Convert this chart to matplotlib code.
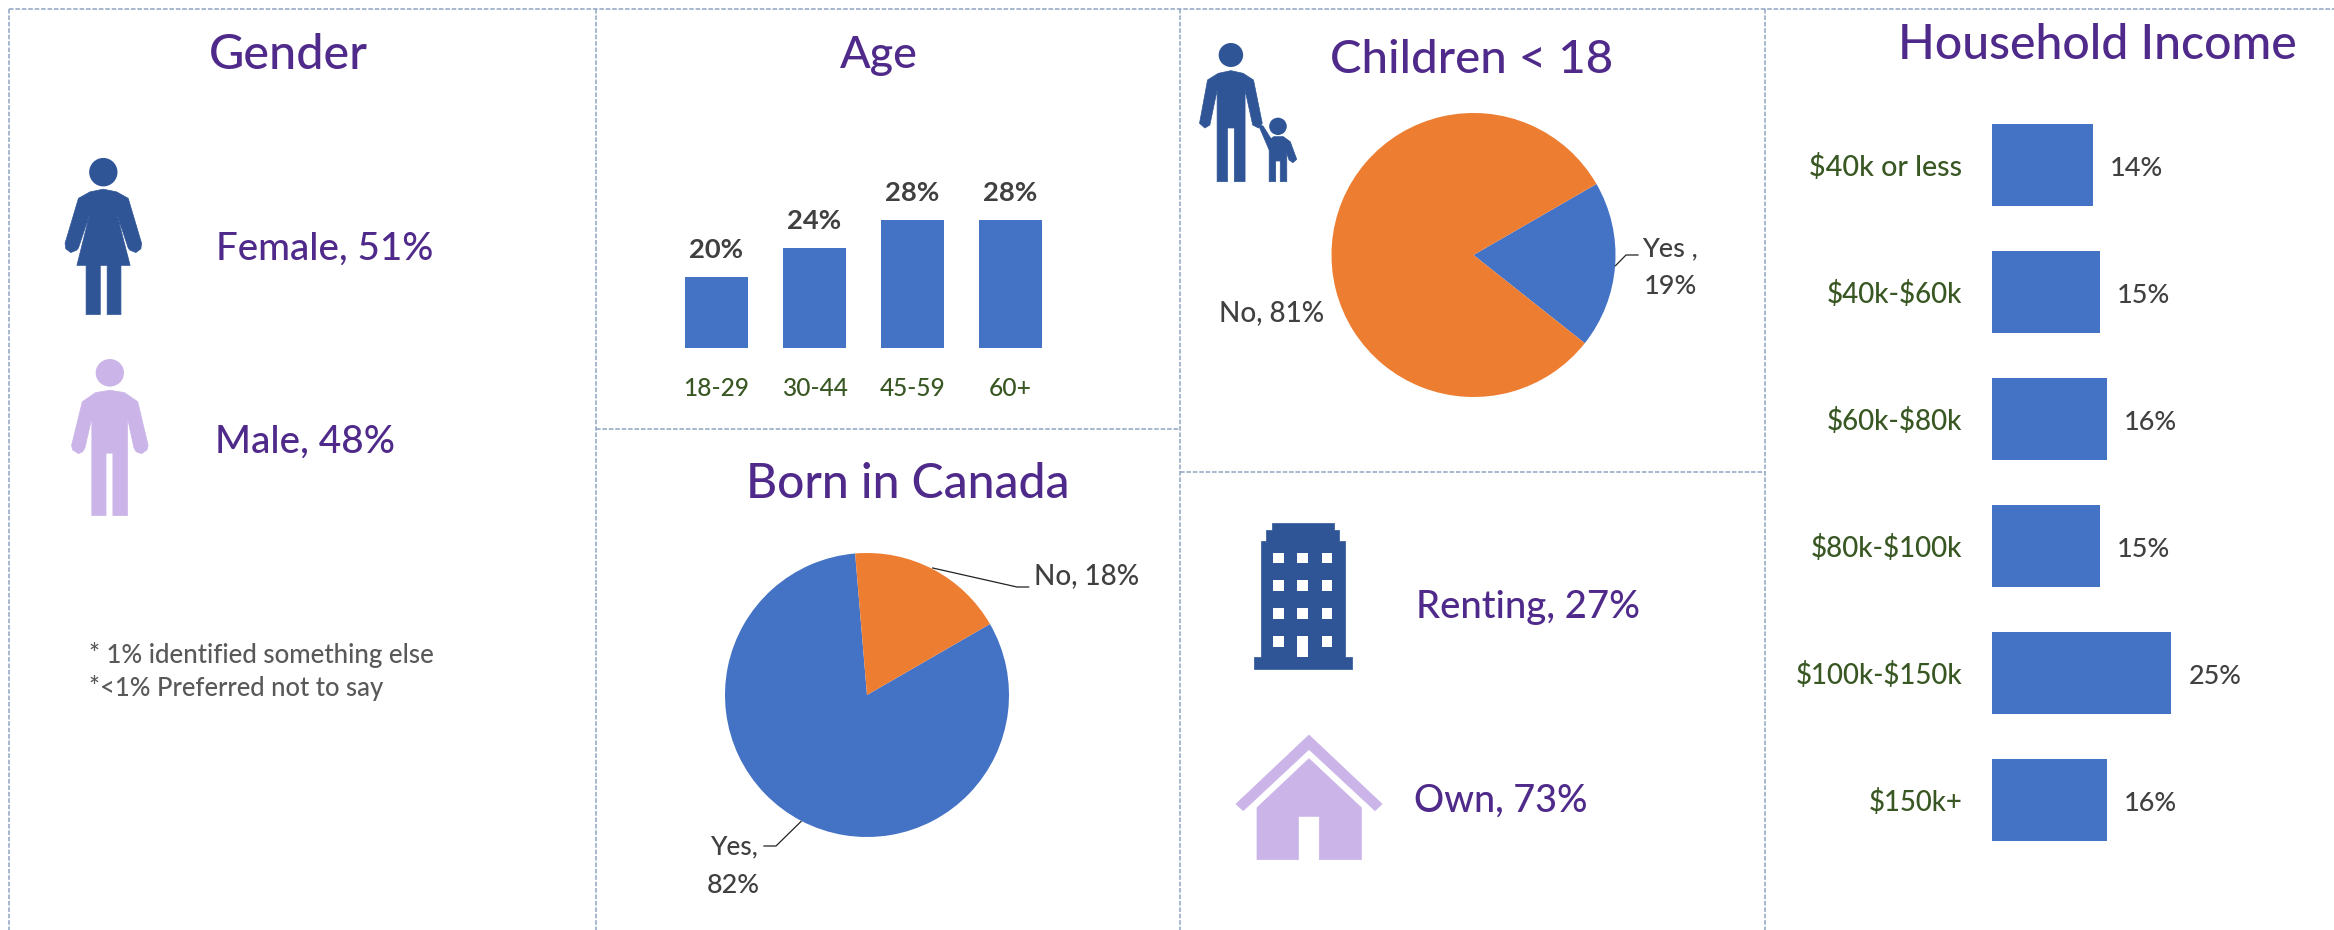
import matplotlib
matplotlib.use("Agg")
import matplotlib.pyplot as plt
from matplotlib.patches import Ellipse, Polygon, Rectangle

plt.rcParams['font.family'] = ['Lato', 'DejaVu Sans']
plt.rcParams['font.weight'] = 'medium'
plt.rcParams['text.parse_math'] = False

W, H = 2334, 930
PX = 0.72  # one pixel in points at dpi 100

PURPLE = "#4F2A8A"
DARK_BLUE = "#2F5597"
LILAC = "#CBB5E8"
BLUE = "#4472C4"
ORANGE = "#ED7D31"
GREEN = "#385723"
GRAY = "#404040"
LINE = "#8EA4C2"

# data
age_groups = ["18-29", "30-44", "45-59", "60+"]
age_values = [20, 24, 28, 28]
income_groups = ["$40k or less", "$40k-$60k", "$60k-$80k", "$80k-$100k", "$100k-$150k", "$150k+"]
income_values = [14, 15, 16, 15, 25, 16]
born_values = [82, 18]
children_values = [19, 81]

fig = plt.figure(figsize=(W / 100, H / 100), dpi=100, facecolor="white")
renderer = fig.canvas.get_renderer()


def px_axes(x0, y0, x1, y1):
    # axes from pixel box, y measured from the top
    return fig.add_axes([x0 / W, 1 - y1 / H, (x1 - x0) / W, (y1 - y0) / H])


def fit(t, width):
    # scale the font until the text is as wide as in the reference
    for _ in range(2):
        w = t.get_window_extent(renderer).width
        t.set_fontsize(t.get_fontsize() * width / w)


# age bars
ax = px_axes(667.5, 205.6, 1059.5, 347.6)
ax.bar(range(len(age_values)), age_values, width=0.64, color=BLUE)
ax.set_xlim(-0.5, 3.5)
ax.set_ylim(10, 30)
ax.set_xticks(range(len(age_groups)), age_groups)
ax.set_yticks([])
ax.tick_params(axis="x", length=0, pad=48 * PX, labelcolor=GREEN)
for s in ax.spines.values():
    s.set_visible(False)
ax.patch.set_visible(False)
for lab, wd in zip(ax.get_xticklabels(), [66, 66, 66, 43]):
    lab.set_va("baseline")
    fit(lab, wd)
for i, v in enumerate(age_values):
    t = ax.annotate(f"{v}%", (i, v), xytext=(0, 19 * PX), textcoords="offset points",
                    ha="center", va="baseline", fontweight="bold", color=GRAY)
    fit(t, 54)

# income bars
ax = px_axes(1992.4, 101, 2207.2, 864)
ax.barh(range(len(income_values)), income_values, height=0.644, color=BLUE)
ax.set_xlim(0, 30)
ax.set_ylim(5.5, -0.5)
ax.set_xticks([])
ax.set_yticks(range(len(income_groups)), income_groups)
ax.tick_params(axis="y", length=0, pad=30 * PX, labelcolor=GREEN)
for s in ax.spines.values():
    s.set_visible(False)
ax.patch.set_visible(False)
for lab, wd in zip(ax.get_yticklabels(), [153, 135, 135, 151, 167, 94]):
    fit(lab, wd)
for i, v in enumerate(income_values):
    t = ax.annotate(f"{v}%", (v, i), xytext=(17 * PX, -11 * PX), textcoords="offset points",
                    ha="left", va="baseline", color=GRAY)
    fit(t, 53)

# pies
ax = px_axes(867 - 142, 695 - 142, 867 + 142, 695 + 142)
ax.pie(born_values, colors=[BLUE, ORANGE], startangle=30, counterclock=False, radius=1)
ax.set_xlim(-1, 1)
ax.set_ylim(-1, 1)

ax = px_axes(1473.5 - 142, 255 - 142, 1473.5 + 142, 255 + 142)
ax.pie(children_values, colors=[BLUE, ORANGE], startangle=30, counterclock=False, radius=1)
ax.set_xlim(-1, 1)
ax.set_ylim(-1, 1)

# everything else sits on a pixel overlay
ov = fig.add_axes([0, 0, 1, 1], zorder=5)
ov.set_xlim(0, W)
ov.set_ylim(H, 0)
ov.axis("off")


def dash(x0, y0, x1, y1):
    ov.plot([x0, x1], [y0, y1], color=LINE, lw=1.1, ls=(0, (3, 1.2)))


dash(9, 9, W, 9)
dash(9, 9, 9, H)
dash(596, 9, 596, H)
dash(1180, 9, 1180, H)
dash(1765, 9, 1765, H)
dash(596, 429, 1180, 429)
dash(1180, 472, 1765, 472)


def label(x, y, s, width, color=GRAY, ha="left"):
    t = ov.text(x, y, s, color=color, ha=ha, va="baseline")
    fit(t, width)


label(288, 69, "Gender", 159, PURPLE, "center")
label(879, 68, "Age", 78, PURPLE, "center")
label(907.5, 498, "Born in Canada", 323, PURPLE, "center")
label(1330, 72.7, "Children < 18", 283, PURPLE)
label(1898, 59.3, "Household Income", 400, PURPLE)

label(216, 259.4, "Female, 51%", 218, PURPLE)
label(215, 453, "Male, 48%", 180, PURPLE)
label(89, 662.5, "* 1% identified something else", 345, "#595959")
label(89, 695.6, "*<1% Preferred not to say", 294, "#595959")

label(1034, 584, "No, 18%", 105)
label(710, 854, "Yes,", 48)
label(707, 892.6, "82%", 53)
label(1642, 256, "Yes ,", 56)
label(1644, 294, "19%", 53)
label(1219.4, 320.7, "No, 81%", 105)

label(1416, 618, "Renting, 27%", 224, PURPLE)
label(1414, 812, "Own, 73%", 174, PURPLE)

# leader lines
ov.plot([932.7, 1017, 1028.6], [568, 587, 587], color="#222222", lw=0.9)
ov.plot([801, 776, 764], [821.5, 846, 846], color="#222222", lw=0.9)
ov.plot([1615.5, 1626, 1638], [265.7, 255, 255], color="#222222", lw=0.9)


def icon(points, sx, sy, ox, oy, color):
    pts = [(ox + x / sx, oy + y / sy) for x, y in points]
    ov.add_patch(Polygon(pts, closed=True, fc=color, ec=color, lw=0.5, joinstyle="round"))


def head(cx, cy, rx, ry, sx, sy, ox, oy, color):
    ov.add_patch(Ellipse((ox + cx / sx, oy + cy / sy), 2 * rx / sx, 2 * ry / sy, fc=color, ec="none"))


s1 = (2.613, 2.178, 0, 0)
head(270, 375, 37, 31, *s1, DARK_BLUE)
icon([(205, 432), (235, 418), (270, 412), (305, 418), (335, 432), (370, 530), (368, 542), (355, 550),
      (340, 545), (335, 540), (305, 465), (340, 578), (316, 578), (316, 685), (280, 685), (280, 578),
      (262, 578), (262, 685), (225, 685), (225, 578), (201, 578), (235, 465), (205, 540), (200, 545),
      (185, 550), (172, 542), (170, 530)], *s1, DARK_BLUE)
head(287, 812, 37, 30, *s1, LILAC)
icon([(215, 875), (250, 855), (287, 850), (325, 855), (360, 875), (387, 970), (384, 980), (370, 988),
      (356, 984), (350, 975), (333, 910), (333, 1123), (295, 1123), (295, 987), (277, 987), (277, 1123),
      (240, 1123), (240, 910), (222, 975), (216, 984), (205, 988), (190, 980), (187, 970)], *s1, LILAC)

# adult and child, crop scaled 2.613 x 3
s2 = (2.613, 3, 1180, 0)
head(133, 165, 32, 36, *s2, DARK_BLUE)
icon([(72, 240), (100, 220), (133, 212), (165, 220), (192, 240), (215, 370), (205, 384), (190, 375),
      (170, 270), (170, 545), (142, 545), (142, 384), (124, 384), (124, 545), (97, 545), (97, 270),
      (78, 375), (65, 384), (51, 370)], *s2, DARK_BLUE)
icon([(205, 375), (217, 378), (240, 420), (233, 450)], *s2, DARK_BLUE)
head(256, 379, 23, 26, *s2, DARK_BLUE)
icon([(233, 420), (245, 410), (270, 410), (288, 425), (305, 478), (295, 488), (285, 480), (279, 460),
      (279, 545), (262, 545), (262, 483), (250, 483), (250, 545), (233, 545)], *s2, DARK_BLUE)

# building and house, crop scaled 3 x 3
s3 = (3, 3, 1180, 470)
icon([(275, 158), (462, 158), (462, 180), (478, 180), (478, 212), (494, 212), (494, 562), (515, 562),
      (515, 598), (221, 598), (221, 562), (243, 562), (243, 212), (258, 212), (258, 180), (275, 180)],
     *s3, DARK_BLUE)
for wx in [279, 352, 425]:
    for wy in [248, 331, 415, 498]:
        wh = 64 if (wx == 352 and wy == 498) else 32
        ov.add_patch(Rectangle((1180 + wx / 3, 470 + wy / 3), 32 / 3, wh / 3, fc="white", ec="none"))
icon([(387, 795), (606, 1002), (585, 1022), (387, 838), (190, 1022), (168, 1002)], *s3, LILAC)
icon([(387, 866), (544, 1013), (544, 1169), (418, 1169), (418, 1039), (355, 1039), (355, 1169),
      (231, 1169), (231, 1013)], *s3, LILAC)

fig.savefig("out.png", dpi=100)
